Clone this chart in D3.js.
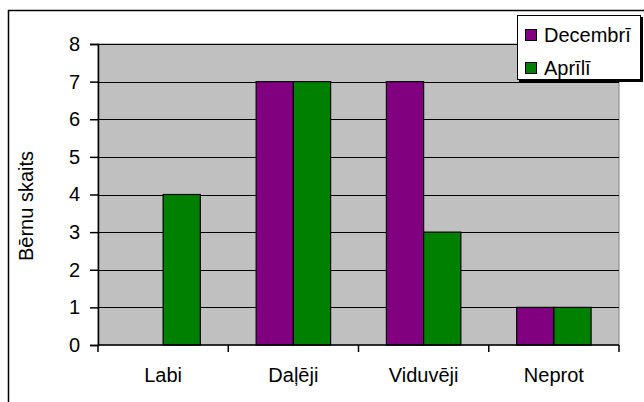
<!DOCTYPE html>
<html>
<head>
<meta charset="utf-8">
<script src="https://cdn.jsdelivr.net/npm/d3@7"></script>
<style>
  html, body { margin: 0; padding: 0; background: #ffffff; }
  svg { display: block; }
  text { font-family: "Liberation Sans", Arial, sans-serif; fill: #000; }
</style>
</head>
<body>
<svg id="chart" width="644" height="402"></svg>
<script>
// Chart data
const categories = ["Labi", "Daļēji", "Viduvēji", "Neprot"];
const seriesNames = ["Decembrī", "Aprīlī"];
const decembri = [0, 7, 7, 1];
const aprili = [4, 7, 3, 1];
const yTicks = [0, 1, 2, 3, 4, 5, 6, 7, 8];
const yTitle = "Bērnu skaits";
const colors = ["#800080", "#008000"];

const seriesValues = [decembri, aprili];

const svg = d3.select("#chart");
const plot = { left: 98, right: 619, top: 44, bottom: 345 };

// Outer chart frame (right and bottom edges fall outside the canvas)
svg.append("rect")
  .attr("x", 8.5).attr("y", 10.5)
  .attr("width", 700).attr("height", 500)
  .attr("fill", "#fff").attr("stroke", "#000").attr("stroke-width", 1.5);

const x = d3.scaleBand().domain(categories).range([plot.left, plot.right]).paddingInner(0).paddingOuter(0);
const xs = d3.scaleBand().domain(seriesNames).range([0, x.bandwidth()]).paddingInner(0).paddingOuter(0.75);
const y = d3.scaleLinear().domain([0, 8]).range([plot.bottom, plot.top]);

// Plot area
svg.append("rect")
  .attr("x", plot.left).attr("y", plot.top)
  .attr("width", plot.right - plot.left).attr("height", plot.bottom - plot.top)
  .attr("fill", "#c0c0c0").attr("stroke", "#808080").attr("stroke-width", 1);

// Horizontal gridlines
svg.append("g").selectAll("line")
  .data(yTicks.filter(d => d > 0))
  .join("line")
  .attr("x1", plot.left).attr("x2", plot.right)
  .attr("y1", d => Math.round(y(d)) + 0.5).attr("y2", d => Math.round(y(d)) + 0.5)
  .attr("stroke", "#000").attr("stroke-width", 1);

// Bars
const rows = [];
categories.forEach((c, i) => {
  seriesNames.forEach((s, j) => {
    rows.push({ cat: c, series: s, value: seriesValues[j][i], color: colors[j] });
  });
});
svg.append("g").selectAll("rect")
  .data(rows.filter(d => d.value > 0))
  .join("rect")
  .attr("x", d => x(d.cat) + xs(d.series))
  .attr("y", d => y(d.value))
  .attr("width", xs.bandwidth())
  .attr("height", d => y(0) - y(d.value))
  .attr("fill", d => d.color)
  .attr("stroke", "#000").attr("stroke-width", 1.2);

// Y axis
const yAxis = svg.append("g")
  .attr("transform", `translate(${plot.left},0)`)
  .call(d3.axisLeft(y).tickValues(yTicks).tickFormat(d3.format("d")).tickSize(8).tickPadding(10));
yAxis.select(".domain").attr("stroke", "#000").attr("stroke-width", 1.5);
yAxis.selectAll(".tick line").attr("stroke", "#000").attr("stroke-width", 1.5);
yAxis.selectAll("text").style("font-size", "20px").style("font-family", "'Liberation Sans', Arial, sans-serif").attr("fill", "#000");

// X axis with ticks at category boundaries
const xAxisG = svg.append("g").attr("transform", `translate(0,${plot.bottom})`);
xAxisG.append("line")
  .attr("x1", plot.left).attr("x2", plot.right)
  .attr("y1", 0).attr("y2", 0)
  .attr("stroke", "#000").attr("stroke-width", 1.5);
const bounds = categories.map(c => x(c)).concat([x.range()[1]]);
xAxisG.selectAll("line.b")
  .data(bounds)
  .join("line").attr("class", "b")
  .attr("x1", d => d).attr("x2", d => d)
  .attr("y1", 0).attr("y2", 7)
  .attr("stroke", "#000").attr("stroke-width", 1.5);
xAxisG.selectAll("text")
  .data(categories)
  .join("text")
  .attr("x", d => x(d) + x.bandwidth() / 2)
  .attr("y", 37)
  .attr("text-anchor", "middle")
  .style("font-size", "20px")
  .text(d => d);

// Y axis title
svg.append("text")
  .attr("transform", "translate(33,206) rotate(-90)")
  .attr("text-anchor", "middle")
  .style("font-size", "20px")
  .text(yTitle);

// Legend
const lg = svg.append("g").attr("transform", "translate(517,15)");
lg.append("rect").attr("x", 2).attr("y", 2).attr("width", 124).attr("height", 65).attr("fill", "#000");
lg.append("rect").attr("x", 0.5).attr("y", 0.5).attr("width", 123).attr("height", 64)
  .attr("fill", "#fff").attr("stroke", "#000").attr("stroke-width", 1);
const items = lg.selectAll("g.item")
  .data(seriesNames)
  .join("g").attr("class", "item")
  .attr("transform", (d, i) => `translate(0,${14 + i * 33})`);
items.append("rect")
  .attr("x", 8.5).attr("y", 0.5).attr("width", 11).attr("height", 11)
  .attr("fill", (d, i) => colors[i]).attr("stroke", "#000").attr("stroke-width", 1);
items.append("text")
  .attr("x", 27).attr("y", 13)
  .style("font-size", "20px")
  .text(d => d);
</script>
</body>
</html>
